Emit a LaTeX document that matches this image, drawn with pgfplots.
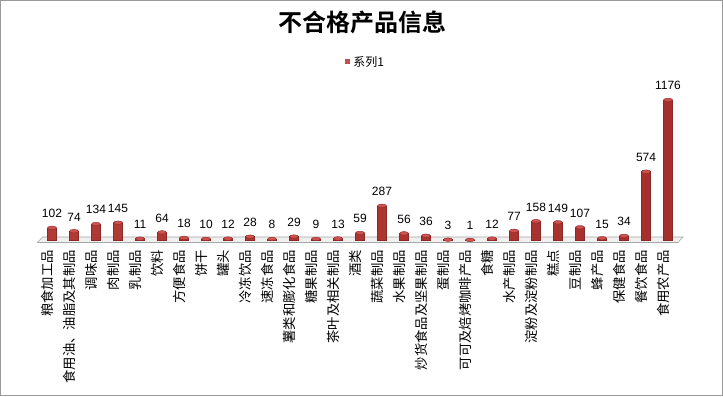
\documentclass[border=0pt]{standalone}
\usepackage{fontspec}
\usepackage{pgfplots}
\usepackage{pgfplotstable}
\pgfplotsset{compat=1.18}
\setmainfont{Liberation Sans}
\newfontfamily\cjk{Noto Sans CJK SC}
\newfontfamily\cjkb{Noto Sans CJK SC Bold}
\definecolor{barmid}{RGB}{220,100,95}
\definecolor{barleft}{RGB}{178,58,54}
\definecolor{barright}{RGB}{165,48,45}
\definecolor{baredge}{RGB}{140,40,38}
\definecolor{barcap}{RGB}{205,82,78}
\definecolor{legred}{RGB}{192,80,77}
\pgfplotstableread{
x y
0 102
1 74
2 134
3 145
4 11
5 64
6 18
7 10
8 12
9 28
10 8
11 29
12 9
13 13
14 59
15 287
16 56
17 36
18 3
19 1
20 12
21 77
22 158
23 149
24 107
25 15
26 34
27 574
28 1176
}\datatable
\begin{document}
\begin{tikzpicture}
\begin{scope}[x=0.75pt,y=0.75pt]
\useasboundingbox (0,0) rectangle (723,396);
\draw[gray!80] (0.5,0.5) rectangle (722.5,395.5);
\node[font=\cjkb\fontsize{18}{20}\selectfont] at (362,374) {不合格产品信息};
\fill[legred] (345,331.5) rectangle (350,336.5);
\node[anchor=west,inner sep=0pt,font=\cjk\fontsize{9}{10}\selectfont] at (353,334) {系列1};
\filldraw[fill=gray!12,draw=gray!70] (37.3,153.5) -- (678,153.5) -- (683,159) -- (42.7,159) -- cycle;
\end{scope}
\begin{axis}[
  at={(27.45pt,117pt)}, anchor=south west,
  scale only axis, width=485.1pt, height=116.07pt,
  xmin=-0.7, xmax=28.7, ymin=0, ymax=1300,
  clip=false,
  axis line style={draw=none},
  tick style={draw=none},
  ytick=\empty,
  xtick={0,...,28},
  xticklabels={粮食加工品,{食用油、油脂及其制品},调味品,肉制品,乳制品,饮料,方便食品,饼干,罐头,冷冻饮品,速冻食品,薯类和膨化食品,糖果制品,茶叶及相关制品,酒类,蔬菜制品,水果制品,炒货食品及坚果制品,蛋制品,可可及焙烤咖啡产品,食糖,水产制品,淀粉及淀粉制品,糕点,豆制品,蜂产品,保健食品,餐饮食品,食用农产品},
  xticklabel style={xshift=-3.5pt, yshift=-4pt, rotate=90, anchor=east, font=\cjk\fontsize{10}{11}\selectfont},
  /pgf/number format/1000 sep={},
  /pgf/number format/assume math mode=true,
]
\addplot[ybar, bar width=6.75pt, draw=baredge, line width=0.3pt,
  left color=barleft, middle color=barmid, right color=barright,
  nodes near coords,
  every node near coord/.append style={font=\fontsize{9}{10}\selectfont, text=black, anchor=south, yshift=4pt},
] table[x=x,y=y] {\datatable};
\addplot[only marks, mark=*, mark size=3.375pt,
  mark options={yscale=0.4, fill=barcap, draw=baredge, line width=0.3pt}] table[x=x,y=y] {\datatable};
\end{axis}
\end{tikzpicture}
\end{document}
